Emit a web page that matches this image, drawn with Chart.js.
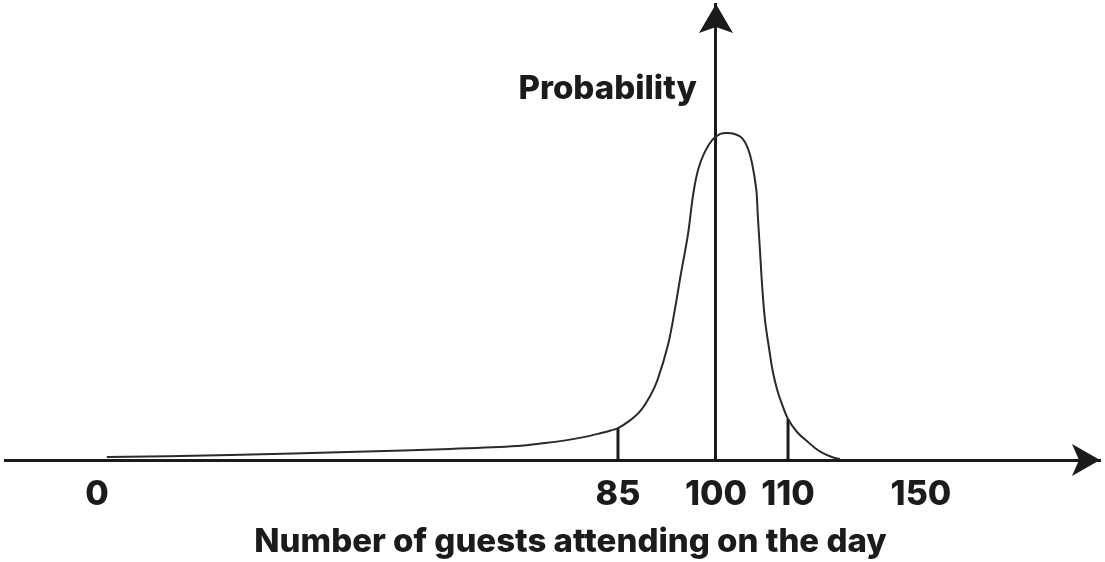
<!DOCTYPE html>
<html>
<head>
<meta charset="utf-8">
<title>Guests attending</title>
<script src="https://cdn.jsdelivr.net/npm/chart.js@4/dist/chart.umd.min.js"></script>
<style>
	html, body { margin: 0; padding: 0; background: #fff; }
	#wrap { width: 1105px; height: 562px; }
</style>
</head>
<body>
<div id="wrap"><canvas id="guestChart"></canvas></div>
<script>
// data block
const guests = [1.6, 21.7, 42.4, 57.6, 68.5, 73.1, 76.7, 79.6, 82.1, 83.7, 85, 86.8, 88.4, 89.9, 91.0, 92.65, 93.7, 94.6,
	95.7, 96.5, 97.25, 98.2, 99.4, 100.6, 101.5, 102.6, 103.6, 104.4, 105.0, 105.6, 105.8, 106.1, 106.4, 106.8,
	107.4, 107.9, 108.5, 109.2, 110, 112.7, 115.7, 118.1, 120.5, 123.2, 125.6];
const probability = [0.009, 0.015, 0.025, 0.034, 0.043, 0.052, 0.061, 0.071, 0.082, 0.090, 0.098, 0.121, 0.150, 0.196, 0.243, 0.353, 0.461, 0.568,
	0.691, 0.814, 0.890, 0.942, 0.982, 1.001, 1.004, 1.001, 0.989, 0.958, 0.912, 0.829, 0.752, 0.645, 0.537, 0.430,
	0.338, 0.270, 0.215, 0.169, 0.126, 0.086, 0.058, 0.037, 0.021, 0.009, 0.003];
const markerGuests = [85, 110];
const markerHeights = [0.098, 0.126];
const tickValues = [0, 85, 100, 110, 150];
const peakGuests = 100;
const yTitle = 'Probability';
const xTitle = 'Number of guests attending on the day';

// the drawing's x axis is not to scale: piecewise stretch between these values
const axisBreaks = [-15, 0, 85, 100, 110, 150, 204];
const axisStops = [0, 0.084, 0.5598, 0.6493, 0.7151, 0.8365, 1];

const ink = '#1b1b1b';

// scale block
class StretchScale extends Chart.LinearScale {
	static id = 'stretch';
	getPixelForValue(value) {
		let i = 1;
		while (i < axisBreaks.length - 1 && value > axisBreaks[i]) i++;
		const t = (value - axisBreaks[i - 1]) / (axisBreaks[i] - axisBreaks[i - 1]);
		const dec = axisStops[i - 1] + t * (axisStops[i] - axisStops[i - 1]);
		return this.getPixelForDecimal(dec);
	}
	getValueForPixel(pixel) {
		const dec = this.getDecimalForPixel(pixel);
		let i = 1;
		while (i < axisStops.length - 1 && dec > axisStops[i]) i++;
		const t = (dec - axisStops[i - 1]) / (axisStops[i] - axisStops[i - 1]);
		return axisBreaks[i - 1] + t * (axisBreaks[i] - axisBreaks[i - 1]);
	}
}
Chart.register(StretchScale);

// arrows and the two axis captions
const axisArrows = {
	id: 'axisArrows',
	afterDraw(chart) {
		const { ctx, chartArea, scales } = chart;
		const ax = scales.x.getPixelForValue(peakGuests);
		const ay = chartArea.bottom;
		ctx.save();
		ctx.fillStyle = ink;
		// right arrow
		ctx.beginPath();
		ctx.moveTo(chartArea.right, ay);
		ctx.lineTo(chartArea.right - 28, ay - 16);
		ctx.lineTo(chartArea.right - 21, ay);
		ctx.lineTo(chartArea.right - 28, ay + 16);
		ctx.closePath();
		ctx.fill();
		// up arrow
		ctx.beginPath();
		ctx.moveTo(ax, chartArea.top);
		ctx.lineTo(ax - 17, chartArea.top + 29);
		ctx.lineTo(ax, chartArea.top + 23);
		ctx.lineTo(ax + 17, chartArea.top + 29);
		ctx.closePath();
		ctx.fill();
		// captions
		ctx.font = '800 33px Inter';
		ctx.textBaseline = 'alphabetic';
		ctx.textAlign = 'right';
		ctx.fillText(yTitle, ax - 19, chartArea.top + 95);
		ctx.textAlign = 'center';
		ctx.fillText(xTitle, chart.width / 2 + 18, chart.height - 10);
		ctx.restore();
	},
};

// setup block
const data = {
	datasets: [
		{
			label: yTitle,
			data: guests.map((g, i) => ({ x: g, y: probability[i] })),
			borderColor: '#2a2a2a',
			borderWidth: 2,
			pointRadius: 0,
			tension: 0.35,
		},
		...markerGuests.map((g, i) => ({
			label: 'marker ' + g,
			data: [{ x: g, y: 0 }, { x: g, y: markerHeights[i] }],
			borderColor: ink,
			borderWidth: 3,
			pointRadius: 0,
		})),
	],
};

// config block
const config = {
	type: 'line',
	data,
	plugins: [axisArrows],
	options: {
		animation: false,
		responsive: true,
		maintainAspectRatio: false,
		layout: { padding: { left: 5, right: 5, top: 4, bottom: 0 } },
		plugins: {
			legend: { display: false },
			tooltip: { enabled: false },
		},
		scales: {
			x: {
				type: 'stretch',
				position: 'bottom',
				min: axisBreaks[0],
				max: axisBreaks[axisBreaks.length - 1],
				afterBuildTicks: (scale) => {
					scale.ticks = tickValues.map((v) => ({ value: v }));
				},
				afterFit: (scale) => {
					scale.height = 102;
				},
				grid: { display: false },
				border: { display: true, color: ink, width: 3 },
				ticks: {
					autoSkip: false,
					maxRotation: 0,
					padding: 6,
					color: ink,
					font: { family: 'Inter', weight: '800', size: 34 },
				},
			},
			y: {
				position: { x: peakGuests },
				min: 0,
				max: 1.4,
				grid: { display: false },
				border: { display: true, color: ink, width: 3 },
				ticks: { display: false },
			},
		},
	},
};

// render block
const guestChart = new Chart(document.getElementById('guestChart'), config);
</script>
</body>
</html>
